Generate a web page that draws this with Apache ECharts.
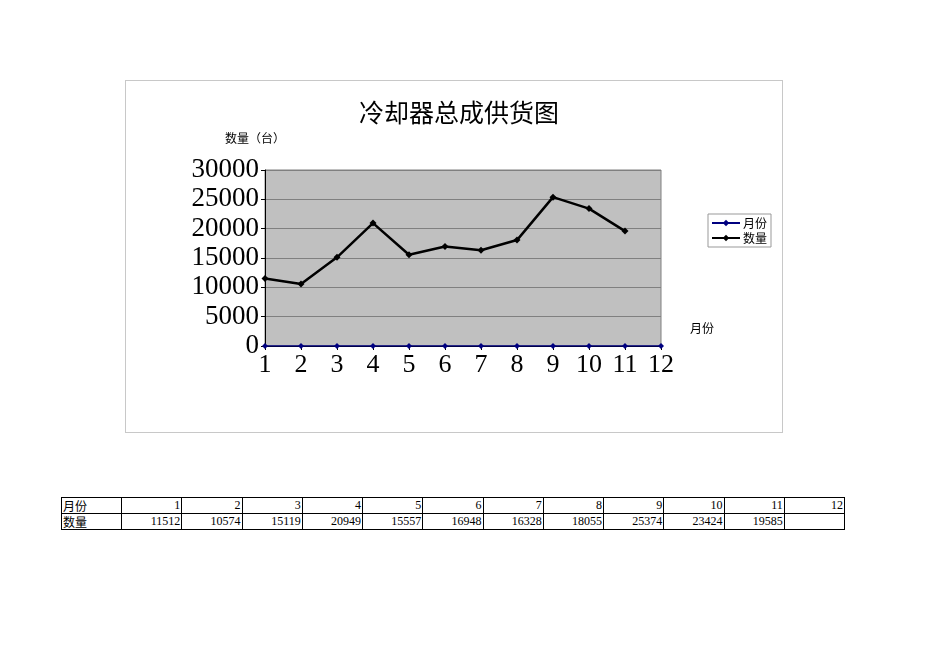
<!DOCTYPE html>
<html><head><meta charset="utf-8">
<script src="https://cdn.jsdelivr.net/npm/echarts@6/dist/echarts.min.js"></script>
<style>
html,body{margin:0;padding:0;background:#fff;width:950px;height:672px;overflow:hidden;}
#frame{position:absolute;left:125px;top:80px;width:656px;height:351px;border:1px solid #c8c8c8;}
#chart{width:656px;height:351px;}
#tbl{position:absolute;left:61px;top:497px;width:784px;table-layout:fixed;border-collapse:collapse;font-family:"Liberation Serif","Noto Sans CJK SC",serif;font-size:12px;color:#000;}
#tbl td{border:1px solid #000;height:16px;padding:0 1px;line-height:15px;text-align:right;box-sizing:border-box;overflow:hidden;white-space:nowrap;}
#tbl td.h{text-align:left;width:60px;font-family:"Noto Sans CJK SC",sans-serif;}
</style></head>
<body>
<div id="frame"><div id="chart"></div></div>
<table id="tbl"></table>
<script>
const titleText = "冷却器总成供货图";
const yName = "数量（台）";
const xName = "月份";
const months = ["1","2","3","4","5","6","7","8","9","10","11","12"];
const monthValues = [1,2,3,4,5,6,7,8,9,10,11,12];
const quantities = [11512,10574,15119,20949,15557,16948,16328,18055,25374,23424,19585,null];
const seriesNames = ["月份","数量"];

// table
const tbl = document.getElementById('tbl');
function row(label, vals){
  const tr = document.createElement('tr');
  const th = document.createElement('td'); th.className='h'; th.textContent = label; tr.appendChild(th);
  vals.forEach(v=>{const td=document.createElement('td'); td.textContent = v==null?'':String(v); tr.appendChild(td);});
  tbl.appendChild(tr);
}
row(seriesNames[0], monthValues);
row(seriesNames[1], quantities);

const chart = echarts.init(document.getElementById('chart'));
const serif = '"Liberation Serif","Times New Roman",serif';
chart.setOption({
  animation:false,
  title:{text:titleText,left:328,top:14,textAlign:'center',
    textStyle:{fontFamily:'"Noto Sans CJK SC",sans-serif',fontSize:25,fontWeight:'normal',color:'#000'}},
  legend:{left:582,top:133,orient:'vertical',itemWidth:28,itemHeight:8,itemGap:3,
    borderColor:'#999',borderWidth:1,padding:[3,4,3,3],
    textStyle:{fontFamily:'"Noto Sans CJK SC",sans-serif',fontSize:12,color:'#000',padding:[0,0,0,-2]},
    data:seriesNames},
  grid:{left:139,top:89,width:396,height:176,show:true,backgroundColor:'#c0c0c0',borderColor:'#808080',borderWidth:1},
  xAxis:{type:'category',data:months,boundaryGap:false,
    name:xName,nameLocation:'end',nameGap:0,
    nameTextStyle:{fontFamily:'"Noto Sans CJK SC",sans-serif',fontSize:12,color:'#000',align:'left',verticalAlign:'bottom',padding:[0,0,12,29]},
    axisLine:{lineStyle:{color:'#000',width:1}},
    axisTick:{show:true,length:4,lineStyle:{color:'#000'}},
    axisLabel:{fontFamily:serif,fontSize:26,color:'#000',margin:6,interval:0},
    splitLine:{show:false}},
  yAxis:{type:'value',min:0,max:30000,interval:5000,
    name:yName,nameLocation:'end',nameGap:0,
    nameTextStyle:{fontFamily:'"Noto Sans CJK SC",sans-serif',fontSize:12,color:'#000',align:'left',verticalAlign:'bottom',padding:[0,0,26,-40]},
    axisLine:{show:true,lineStyle:{color:'#000',width:1}},
    axisTick:{show:true,length:4,lineStyle:{color:'#000'}},
    axisLabel:{fontFamily:serif,fontSize:27,color:'#000',margin:6,formatter:v=>String(v)},
    splitLine:{show:true,lineStyle:{color:'#808080',width:1}}},
  series:[
    {name:seriesNames[0],type:'line',data:monthValues,symbol:'diamond',symbolSize:6,
      itemStyle:{color:'#000080'},lineStyle:{color:'#000080',width:1.5}},
    {name:seriesNames[1],type:'line',data:quantities,symbol:'diamond',symbolSize:7,
      itemStyle:{color:'#000'},lineStyle:{color:'#000',width:2.5}}
  ]
});
</script>
</body></html>
